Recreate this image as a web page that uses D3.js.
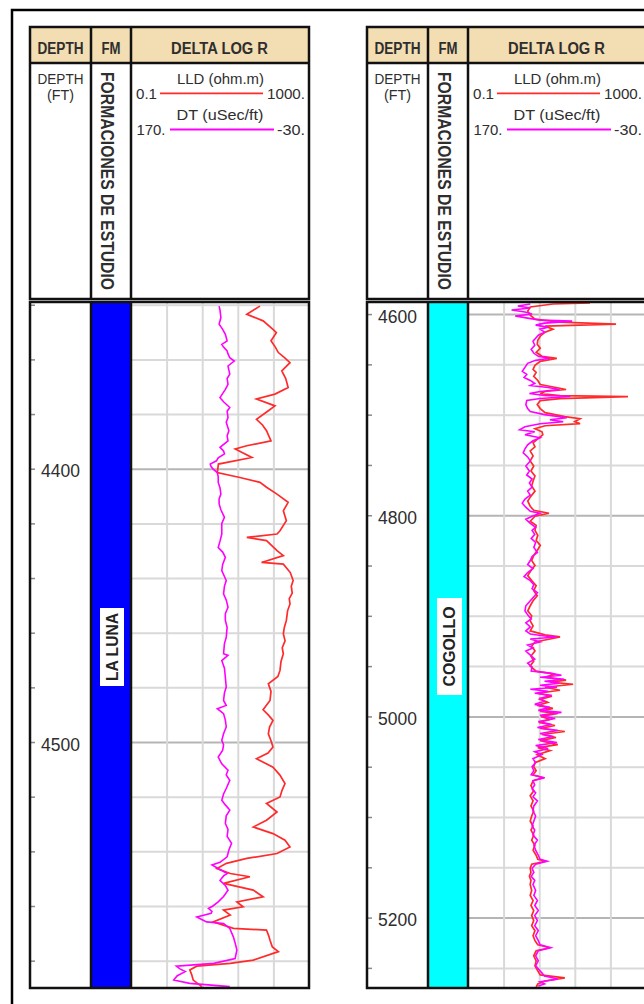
<!DOCTYPE html>
<html>
<head>
<meta charset="utf-8">
<script src="https://cdn.jsdelivr.net/npm/d3@7"></script>
<style>
body { margin: 0; background: #fff; }
svg { display: block; }
text { font-family: "Liberation Sans", Arial, sans-serif; fill: #2e2e2e; }
</style>
</head>
<body>
<svg width="644" height="1004"></svg>
<script>
// curve ranges shown in the track header
var lldRange = [0.1, 1000],
    dtRange = [170, -30],
    dtGrid = [130, 90, 50, 10];

var formations = ["LA LUNA", "COGOLLO"],
    depthDomains = [[4339, 4590], [4588, 5270]],
    depthLabels = [[4400, 4500], [4600, 4800, 5000, 5200]],
    gridSteps = [20, 50],
    majorSteps = [100, 200];

// [depth ft, LLD ohm.m]
var lunaLLD = [[4340.5,79],[4343.5,40],[4345.9,93],[4349,155],[4350.2,185],[4353.2,140],[4355.5,175],[4357.5,205],
  [4359.5,290],[4361.2,374],[4364.2,245],[4367,300],[4370.3,340],[4372.7,172],[4374.5,66],[4377,172],[4378.8,122],
  [4381.9,66],[4384,90],[4386.1,111],[4389.8,140],[4391.6,40],[4392.8,22],[4395.9,52],[4398.3,9.2],[4401.4,8.7],
  [4403.2,28],[4405,79],[4406.8,111],[4409.3,191],[4412.3,340],[4415.4,265],[4419,310],[4422.7,223],[4423.9,191],
  [4425.1,40],[4426.3,111],[4430,191],[4431.8,265],[4434.3,86],[4434.9,265],[4438,380],[4440.9,440],[4443,400],
  [4445.5,420],[4447.5,360],[4449.5,374],[4452,330],[4455.5,310],[4458,280],[4460.4,265],[4463,290],[4465.5,250],
  [4467.7,265],[4470.5,235],[4473.8,223],[4476,200],[4478.7,122],[4481.5,140],[4484.8,133],[4488.2,93],[4490,120],
  [4492.1,155],[4494.5,130],[4497,122],[4499.5,140],[4501.8,155],[4504,120],[4506.1,66],[4509.2,155],[4512,220],
  [4515.2,289],[4517.5,250],[4520.1,223],[4522.5,111],[4525.6,191],[4528.6,111],[4531.1,56],[4533.5,155],[4535.9,289],
  [4538.4,374],[4540.8,191],[4542.6,40],[4544.4,14],[4546.3,8.5],[4548.1,17],[4549.3,47],[4551.7,12],[4554.2,56],
  [4556.6,93],[4558.5,24],[4560.3,33],[4561.5,12],[4563.3,17],[4565.8,7],[4568.2,20],[4568.8,111],[4571,125],
  [4572.5,133],[4575,150],[4576.7,205],[4579.8,56],[4581,17],[4582,3],[4583.4,2.1],[4585,2.3],[4587.1,2.5],[4589.5,3.9]];

// [depth ft, DT uSec/ft]
var lunaDT = [[4340.5,71],[4342,70],[4344.7,69],[4347.1,71],[4349,67],[4350.8,64],[4353.2,62],[4354.5,68],[4355.5,66],
  [4356.9,62],[4358,61],[4359.4,59],[4360.6,54],[4362.4,61],[4364,60],[4365.4,59],[4367,62],[4369.1,61],[4371,64],
  [4374,70],[4375.5,66],[4377.6,59],[4379,62],[4381.3,61],[4383,63],[4386.1,60],[4388,62],[4389.8,61],[4392.2,70],
  [4393.5,66],[4394.6,65],[4396,72],[4397.1,74],[4398.3,81],[4399.2,80],[4400.1,78],[4401.4,73],[4403,72],[4405,72],
  [4407,70],[4409.3,69],[4411,71],[4412.9,71],[4415,69],[4417.8,65],[4420,68],[4422.7,68],[4423.9,68],[4426.5,70],
  [4428.8,72],[4430.5,67],[4432.4,64],[4435,67],[4437.3,68],[4440.9,63],[4443,65],[4445.8,66],[4448,63],[4450.7,61],
  [4453,64],[4455.5,64],[4458,62],[4461.7,63],[4464,65],[4467.7,66],[4468.3,61],[4470.2,68],[4473,65],[4476.3,64],
  [4479.9,63],[4482,65],[4484.8,66],[4486.6,63],[4487.8,73],[4489.6,66],[4492,64],[4494.5,63],[4497,66],[4499.4,68],
  [4501,66],[4503,67],[4505.5,72],[4508,68],[4510.3,61],[4512,63],[4514,59],[4517,63],[4519,66],[4521.3,68],[4523,64],
  [4524.9,59],[4527,63],[4529.8,64],[4532,61],[4534.5,62],[4537.1,57],[4539.5,60],[4542,62],[4544,70],[4545,79],
  [4546.3,72],[4548.1,62],[4549,66],[4550.6,70],[4552.5,64],[4554.2,61],[4556.5,66],[4558.5,72],[4560,78],[4560.9,83],
  [4562,79],[4562.7,80],[4564,96],[4565,90],[4565.8,85],[4566.4,66],[4568.2,59],[4571.3,55],[4573.5,53],[4576.1,51],
  [4579.2,53],[4581,77],[4582,119],[4583,115],[4584,109],[4585.5,118],[4587.1,122],[4588.3,104],[4589.5,59]];

var cogolloLLD = [[4589,55],[4590,8.1],[4593,2.5],[4597,2.2],[4601,2.5],[4605,3.2],[4608,11.7],[4610,212],[4612,5.4],
  [4615,8.1],[4618,5.4],[4622,4.2],[4626,3.7],[4630,3.6],[4634,4.2],[4638,3.4],[4642,4.6],[4644,9.9],[4647,4.2],
  [4651,3.2],[4655,2.9],[4658,3.4],[4662,3],[4666,3.7],[4670,4.2],[4673,9.5],[4675,16],[4677,5.4],[4679,4.2],
  [4681,11.7],[4682,394],[4684,11.7],[4686,4.2],[4690,3.6],[4694,4.2],[4698,5.4],[4702,15],[4704,33],[4707,25],
  [4709,33],[4711,5.4],[4714,3.2],[4717,4.6],[4720,4.8],[4724,3.7],[4728,2.9],[4732,3.2],[4736,2.5],[4741,2.9],
  [4746,2.5],[4751,3],[4756,2.6],[4761,3.2],[4766,2.9],[4771,2.7],[4776,3.2],[4781,2.6],[4786,2.2],[4791,2.5],
  [4795,3],[4798,6.6],[4801,3.2],[4806,2.5],[4810,3.4],[4815,3.2],[4820,3.7],[4825,3.4],[4830,4.2],[4835,3.6],
  [4840,3],[4845,2.7],[4850,3.2],[4855,2.6],[4860,2.2],[4865,2.7],[4870,3.4],[4875,3],[4880,3.6],[4885,2.9],
  [4890,2.5],[4895,2.2],[4900,2.7],[4905,2.5],[4910,2.9],[4915,2.5],[4919,5.4],[4921,11.7],[4923,7],[4926,3.2],
  [4930,2.7],[4935,3.2],[4940,2.6],[4945,3],[4950,2.5],[4955,3.4],[4958,9],[4961,5.4],[4964,16],[4966,7],[4968,23],
  [4971,5.4],[4974,11.7],[4977,3.7],[4980,7.7],[4983,4.2],[4986,6.2],[4989,3.6],[4992,8.1],[4995,4.2],[4997,10.4],
  [5000,4.4],[5003,7],[5006,3.9],[5009,9],[5012,4.2],[5015,15],[5018,4.6],[5021,9.5],[5024,4.2],[5028,10.4],[5031,3.7],
  [5034,7],[5038,3.6],[5042,5.4],[5046,3.2],[5050,3],[5054,3.4],[5058,2.9],[5061,4.8],[5064,2.9],[5069,2.6],[5074,3],
  [5079,2.5],[5084,2.9],[5089,2.6],[5094,3],[5099,2.7],[5104,2.5],[5109,2.9],[5113,2.6],[5118,3],[5123,2.7],[5128,3.2],
  [5133,2.9],[5138,3.4],[5142,3.7],[5144,5.6],[5147,2.7],[5151,2.5],[5155,2.6],[5159,2.4],[5163,2.6],[5167,2.5],
  [5173,2.7],[5178,2.5],[5183,2.9],[5188,2.6],[5193,3],[5198,2.7],[5203,3],[5208,2.7],[5213,3.2],[5218,2.9],[5223,3.2],
  [5227,3.7],[5230,7],[5233,3.4],[5238,3],[5243,3.4],[5248,3.2],[5253,3.7],[5257,4.2],[5260,15],[5263,5.4],[5266,3.7],
  [5269,3.4]];

var cogolloDT = [[4590,100],[4592,114],[4594,100],[4596,121],[4598,106],[4600,98],[4602,117],[4604,103],[4606,89],
  [4607,53],[4609,84],[4611,94],[4613,80],[4615,89],[4618,84],[4621,91],[4624,94],[4627,97],[4631,95],[4635,99],
  [4639,96],[4642,91],[4644,78],[4646,94],[4649,103],[4653,106],[4657,109],[4660,104],[4663,107],[4666,100],[4669,95],
  [4671,100],[4673,80],[4675,67],[4677,89],[4679,101],[4681,84],[4682,55],[4684,89],[4686,104],[4690,105],[4694,103],
  [4697,100],[4700,84],[4703,59],[4705,78],[4707,63],[4709,89],[4712,106],[4715,112],[4717,95],[4720,106],[4723,89],
  [4726,97],[4730,103],[4734,106],[4738,108],[4742,103],[4746,100],[4751,105],[4756,101],[4760,104],[4764,98],
  [4768,101],[4772,98],[4776,103],[4780,100],[4784,106],[4788,109],[4792,105],[4796,100],[4798,89],[4801,98],
  [4804,105],[4808,100],[4812,94],[4815,98],[4819,95],[4823,99],[4827,94],[4832,96],[4837,92],[4841,98],[4845,100],
  [4849,103],[4853,97],[4857,103],[4861,107],[4865,100],[4869,96],[4873,98],[4877,92],[4881,96],[4885,100],[4890,105],
  [4895,106],[4899,103],[4903,99],[4907,105],[4911,100],[4915,105],[4918,100],[4920,84],[4921,70],[4923,100],[4926,89],
  [4929,103],[4932,97],[4935,105],[4939,100],[4943,95],[4947,103],[4951,98],[4955,99],[4957,78],[4959,65],[4961,89],
  [4963,62],[4965,84],[4967,67],[4969,89],[4971,70],[4973,100],[4975,80],[4977,95],[4979,76],[4982,89],[4985,84],
  [4988,95],[4991,78],[4994,91],[4996,65],[4999,89],[5002,72],[5005,91],[5008,76],[5011,92],[5014,69],[5017,89],
  [5020,74],[5023,91],[5026,70],[5029,94],[5032,80],[5035,95],[5038,87],[5042,97],[5046,94],[5050,98],[5054,96],
  [5058,99],[5061,84],[5064,97],[5068,95],[5072,98],[5076,94],[5080,97],[5084,92],[5089,96],[5094,97],[5099,94],
  [5104,96],[5109,98],[5113,95],[5118,97],[5123,92],[5128,96],[5133,94],[5138,91],[5142,89],[5144,81],[5147,94],
  [5151,98],[5155,96],[5159,99],[5163,95],[5167,97],[5173,94],[5178,96],[5183,92],[5188,95],[5193,91],[5198,95],
  [5203,92],[5208,95],[5213,91],[5218,94],[5223,91],[5227,89],[5230,77],[5233,91],[5238,94],[5243,91],[5248,94],
  [5253,89],[5258,84],[5261,69],[5264,89],[5266,84],[5268,91]];

var fmColors = ["#0000ff", "#00ffff"],
    lldColor = "#ff2b2b",
    dtColor = "#ff00ff";

var svg = d3.select("svg");
svg.append("rect").attr("width", 644).attr("height", 1004).attr("fill", "#fff");

// outer frame, cut by the picture edge
svg.append("rect")
    .attr("x", 12).attr("y", 10)
    .attr("width", 1000).attr("height", 1100)
    .attr("fill", "none").attr("stroke", "#000").attr("stroke-width", 2.5);

var W = 279, colA = 61, colB = 101,
    hTop = 27, hRow = 63, hBot = 299,
    yTop = 302, yBot = 988;

function fmt(v) { return Math.abs(v) < 1 ? String(v) : v + "."; }

function addText(g, str, x, y, size, len, anchor, bold) {
    var t = g.append("text")
        .attr("x", x).attr("y", y)
        .attr("text-anchor", anchor || "middle")
        .style("font-size", size + "px")
        .style("font-weight", bold ? "bold" : "normal")
        .text(str);
    if (len) t.attr("textLength", len).attr("lengthAdjust", "spacingAndGlyphs");
    return t;
}

function drawPanel(i, x0, lld, dt, labelBox) {
    var g = svg.append("g").attr("transform", "translate(" + x0 + ",0)");
    var dom = depthDomains[i];

    var y = d3.scaleLinear().domain(dom).range([yTop, yBot]);
    var xLLD = d3.scaleLog().domain(lldRange).range([colB, W]);
    var xDT = d3.scaleLinear().domain(dtRange).range([colB, W]);

    // header
    g.append("rect").attr("x", 0).attr("y", hTop).attr("width", W).attr("height", hRow - hTop)
        .attr("fill", "#f3ddb2");
    addText(g, "DEPTH", 30.5, 53.5, 16, 46, null, true);
    addText(g, "FM", 81, 53.5, 16, 19, null, true);
    addText(g, "DELTA LOG R", 189.5, 53.5, 16, 97, null, true);

    addText(g, "DEPTH", 30.5, 83.5, 15.5, 46);
    addText(g, "(FT)", 30.5, 100, 15.5, 27);

    g.append("text")
        .attr("transform", "translate(" + (colA + 10) + ",72) rotate(90)")
        .attr("textLength", 218).attr("lengthAdjust", "spacingAndGlyphs")
        .style("font-size", "19px")
        .style("font-weight", "bold")
        .text("FORMACIONES DE ESTUDIO");

    // legend
    addText(g, "LLD (ohm.m)", 190.5, 83.5, 15, 87);
    g.append("line").attr("x1", 130).attr("x2", 233).attr("y1", 93.3).attr("y2", 93.3)
        .attr("stroke", lldColor).attr("stroke-width", 1.8);
    addText(g, fmt(lldRange[0]), 106, 99, 14, 21, "start");
    addText(g, fmt(lldRange[1]), 275, 99, 14, 38, "end");

    addText(g, "DT (uSec/ft)", 190, 119.5, 15, 87);
    g.append("line").attr("x1", 140).attr("x2", 244).attr("y1", 129.5).attr("y2", 129.5)
        .attr("stroke", dtColor).attr("stroke-width", 1.8);
    addText(g, fmt(dtRange[0]), 106.5, 135, 14, 29, "start");
    addText(g, fmt(dtRange[1]), 275, 135, 14, 28, "end");

    // formation column
    g.append("rect").attr("x", colA).attr("y", yTop).attr("width", colB - colA).attr("height", yBot - yTop)
        .attr("fill", fmColors[i]);

    // grid
    var step = gridSteps[i], major = majorSteps[i];
    var gridVals = d3.range(Math.ceil(dom[0] / step) * step, dom[1], step);

    var hg = g.append("g").attr("transform", "translate(" + colB + ",0)")
        .call(d3.axisLeft(y).tickValues(gridVals).tickSize(-(W - colB)).tickFormat(""));
    hg.select(".domain").remove();
    hg.selectAll("line")
        .attr("stroke", function(d) { return d % major === 0 ? "#b5b5b5" : "#d9d9d9"; })
        .attr("stroke-width", 2);

    var vg = g.append("g").attr("transform", "translate(0," + yTop + ")")
        .call(d3.axisBottom(xDT).tickValues(dtGrid).tickSize(yBot - yTop).tickFormat(""));
    vg.select(".domain").remove();
    vg.selectAll("line").attr("stroke", "#d9d9d9").attr("stroke-width", 2);

    // small depth ticks on the left edge
    var tg = g.append("g").attr("transform", "translate(1,0)")
        .call(d3.axisRight(y).tickValues(gridVals).tickSize(4).tickFormat(""));
    tg.select(".domain").remove();
    tg.selectAll("line").attr("stroke", "#888").attr("stroke-width", 1.5);

    g.selectAll("text.depth")
        .data(depthLabels[i])
      .enter().append("text")
        .attr("class", "depth")
        .attr("x", 50)
        .attr("y", function(d) { return y(d) + 8.5; })
        .attr("text-anchor", "end")
        .style("font-size", "17.5px")
        .text(function(d) { return d; });

    // curves
    g.append("defs").append("clipPath")
        .attr("id", "clip" + i)
      .append("rect")
        .attr("x", colB).attr("y", yTop)
        .attr("width", W - colB).attr("height", yBot - yTop);

    var curves = g.append("g").attr("clip-path", "url(#clip" + i + ")");

    curves.append("path")
        .datum(lld)
        .attr("fill", "none")
        .attr("stroke", lldColor)
        .attr("stroke-width", 1.7)
        .attr("d", d3.line()
            .x(function(d) { return xLLD(d[1]); })
            .y(function(d) { return y(d[0]); }));

    curves.append("path")
        .datum(dt)
        .attr("fill", "none")
        .attr("stroke", dtColor)
        .attr("stroke-width", 1.6)
        .attr("d", d3.line()
            .x(function(d) { return xDT(d[1]); })
            .y(function(d) { return y(d[0]); }));

    // formation name
    g.append("rect")
        .attr("x", labelBox[0]).attr("y", labelBox[1])
        .attr("width", labelBox[2]).attr("height", labelBox[3])
        .attr("fill", "#fff");
    g.append("text")
        .attr("transform", "translate(88," + (labelBox[1] + labelBox[3] / 2) + ") rotate(-90)")
        .attr("text-anchor", "middle")
        .attr("textLength", labelBox[4]).attr("lengthAdjust", "spacingAndGlyphs")
        .style("font-size", "16px")
        .style("font-weight", "bold")
        .style("fill", "#222")
        .text(formations[i]);

    // frames
    var frame = g.append("g").attr("fill", "none").attr("stroke", "#111").attr("stroke-width", 2.5);
    frame.append("rect").attr("x", 0).attr("y", hTop).attr("width", W).attr("height", hBot - hTop);
    frame.append("line").attr("x1", 0).attr("x2", W).attr("y1", hRow).attr("y2", hRow);
    frame.append("rect").attr("x", 0).attr("y", yTop).attr("width", W).attr("height", yBot - yTop);
    [colA, colB].forEach(function(cx) {
        frame.append("line").attr("x1", cx).attr("x2", cx).attr("y1", hTop).attr("y2", hBot);
        frame.append("line").attr("x1", cx).attr("x2", cx).attr("y1", yTop).attr("y2", yBot);
    });
}

drawPanel(0, 30, lunaLLD, lunaDT, [70, 608, 24, 78, 68]);
drawPanel(1, 367, cogolloLLD, cogolloDT, [70, 598, 25, 97, 80]);
</script>
</body>
</html>
